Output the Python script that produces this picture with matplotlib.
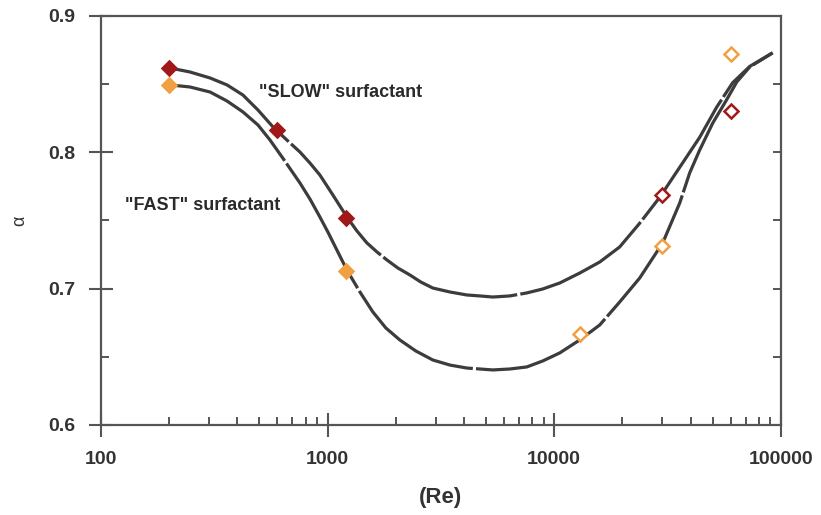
import matplotlib
matplotlib.use("Agg")
import matplotlib.pyplot as plt

plt.rcParams["font.family"] = ["Liberation Sans", "DejaVu Sans"]

# measured points
slow_re = [200, 600, 1200, 30000, 60000]
slow_a = [0.862, 0.816, 0.752, 0.769, 0.830]
slow_filled = [True, True, True, False, False]

fast_re = [200, 1200, 13000, 30000, 60000]
fast_a = [0.849, 0.713, 0.667, 0.731, 0.872]
fast_filled = [True, True, False, False, False]

# fitted curves
slow_curve_re = [202, 247, 303, 360, 423, 493, 574, 661, 755, 836, 925, 1055, 1217,
                 1347, 1491, 1651, 1827, 2042, 2307, 2579, 2914, 3464, 4117, 4696,
                 5361, 6372, 7572, 8906, 10586, 12970, 15890, 19450, 23860, 29240,
                 35820, 43880, 52100, 61330, 72960, 92060]
slow_curve_a = [0.8618, 0.8589, 0.8545, 0.8494, 0.8420, 0.8310, 0.8186, 0.8090, 0.8002,
                0.7921, 0.7833, 0.7687, 0.7525, 0.7423, 0.7335, 0.7269, 0.7210, 0.7151,
                0.7100, 0.7048, 0.7004, 0.6975, 0.6953, 0.6946, 0.6938, 0.6946, 0.6968,
                0.6997, 0.7041, 0.7114, 0.7195, 0.7305, 0.7480, 0.7670, 0.7890, 0.8110,
                0.8330, 0.8510, 0.8630, 0.8730]

fast_curve_re = [202, 247, 303, 360, 423, 493, 557, 629, 755, 836, 925, 1003, 1099,
                 1217, 1389, 1585, 1808, 2084, 2452, 2914, 3464, 4117, 4696, 5361, 6372,
                 7572, 8906, 10586, 12970, 15890, 19470, 23860, 30130, 35820, 39620,
                 43880, 50120, 57640, 63940, 72960, 92060]
fast_curve_a = [0.8494, 0.8479, 0.8442, 0.8376, 0.8296, 0.8200, 0.8090, 0.7966, 0.7775,
                0.7657, 0.7525, 0.7415, 0.7283, 0.7136, 0.6975, 0.6828, 0.6711, 0.6623,
                0.6542, 0.6476, 0.6439, 0.6417, 0.6410, 0.6403, 0.6410, 0.6425, 0.6469,
                0.6528, 0.6623, 0.6733, 0.6902, 0.7078, 0.7335, 0.7628, 0.7848, 0.8017,
                0.8215, 0.8384, 0.8516, 0.8626, 0.8729]

fig = plt.figure(figsize=(8.21, 5.15), dpi=100)
ax = fig.add_axes([0.123, 0.175, 0.828, 0.794])

line_kw = dict(color="#3c3c3c", lw=2.3, linestyle=(0, (45, 1.0)), zorder=2,
               solid_joinstyle="round")
ax.plot(slow_curve_re, slow_curve_a, **line_kw)
ax.plot(fast_curve_re, fast_curve_a, **line_kw)

for x, y, f in zip(slow_re, slow_a, slow_filled):
    ax.plot(x, y, marker="D", ms=7.5, mew=1.8, color="#a01818",
            mfc="#a01818" if f else "white", zorder=3)
for x, y, f in zip(fast_re, fast_a, fast_filled):
    ax.plot(x, y, marker="D", ms=7.5, mew=1.8, color="#f0a040",
            mfc="#f0a040" if f else "white", zorder=3)

ax.text(498, 0.844, '"SLOW" surfactant', fontsize=13, fontweight="bold", color="#2a2a2a",
        va="center", ha="left")
ax.text(128, 0.761, '"FAST" surfactant', fontsize=13, fontweight="bold", color="#2a2a2a",
        va="center", ha="left")

ax.set_xscale("log")
ax.set_xlim(100, 100000)
ax.set_ylim(0.6, 0.9)
ax.set_xticks([100, 1000, 10000, 100000])
ax.set_xticklabels(["100", "1000", "10000", "100000"])
ax.set_yticks([0.6, 0.7, 0.8, 0.9])
ax.set_yticks([0.65, 0.75, 0.85], minor=True)

for s in ax.spines.values():
    s.set_color("#555555")
    s.set_linewidth(1.6)

ax.tick_params(which="major", direction="inout", length=17, width=1.5, color="#555555",
               labelsize=14, labelcolor="#333333", pad=10)
ax.tick_params(which="minor", direction="in", length=6, width=1.4, color="#555555")
for lab in ax.get_xticklabels() + ax.get_yticklabels():
    lab.set_fontweight("bold")

sec = ax.secondary_yaxis("right")
sec.set_yticks([0.6, 0.7, 0.8, 0.9])
sec.set_yticks([0.65, 0.75, 0.85], minor=True)
sec.tick_params(which="both", direction="in", length=6, width=1.4, color="#555555",
                labelright=False)
sec.spines["right"].set_visible(False)

ax.set_xlabel("(Re)", fontsize=16, fontweight="bold", color="#333333", labelpad=14)
ax.set_ylabel("α", fontsize=13, color="#333333", labelpad=14)

fig.savefig("out.png", dpi=100)
